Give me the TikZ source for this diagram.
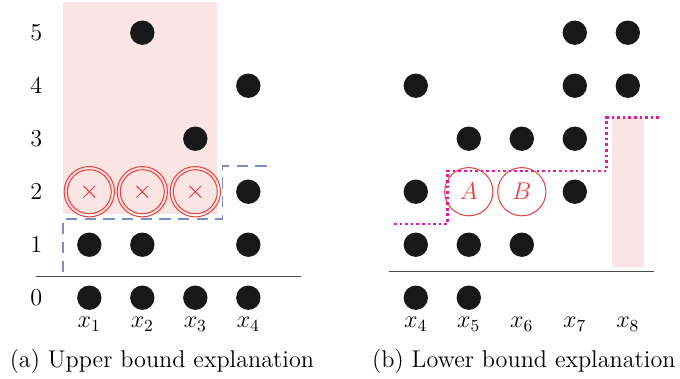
\RequirePackage{fix-cm}
\documentclass[tikz,border=0pt]{standalone}
\usepackage{fontspec}
\definecolor{dotc}{HTML}{181818}
\definecolor{pinkf}{HTML}{FBE4E4}
\definecolor{redc}{HTML}{E8403A}
\definecolor{bluec}{HTML}{7A8CCC}
\definecolor{magc}{HTML}{E6199A}
\begin{document}
\begin{tikzpicture}[x=1cm,y=1cm,
  every node/.style={font=\fontsize{13}{15}\selectfont, inner sep=0pt},
  pt/.style={circle, fill=dotc, minimum size=0.46cm},
  marked/.style={circle, draw=redc, line width=0.55pt, minimum size=0.83cm},
  markedout/.style={circle, draw=redc, line width=0.55pt, minimum size=0.95cm},
  lettered/.style={circle, draw=redc, line width=0.55pt, minimum size=0.91cm, text=redc},
  axisline/.style={draw=black!70, line width=0.8pt},
  bluedash/.style={draw=bluec, line width=0.9pt, dash pattern=on 6pt off 4pt},
  magdot/.style={draw=magc, line width=1.4pt, dash pattern=on 1.4pt off 1.6pt}
]
\useasboundingbox (-1.685,-1.515) rectangle (11.145,5.617);

% ---------- left panel ----------
\fill[pinkf] (-0.49,1.585) rectangle (2.41,5.585);
\draw[axisline] (-1,0.396) -- (4,0.396);
\foreach \r in {0,...,5} \node (ly\r) at (-1.0,\r) {$\r$};
\foreach \c/\n in {0/1,1/2,2/3,3/4} \node (lx\n) at (\c,-0.5) {$x_{\n}$};

% dots left
\foreach \c/\r [count=\i] in {0/0,1/0,2/0,3/0,0/1,1/1,3/1,3/2,2/3,3/4,1/5}
  \node[pt] (ld\i) at (\c,\r) {};

% marked circles
\foreach \c [count=\i] in {0,1,2} {
  \node[markedout] (mo\i) at (\c,2) {};
  \node[marked] (mi\i) at (\c,2) {};
  \draw[redc, line width=0.55pt] ([shift={(-0.11,-0.11)}]mi\i.center) -- ([shift={(0.11,0.11)}]mi\i.center);
  \draw[redc, line width=0.55pt] ([shift={(-0.11,0.11)}]mi\i.center) -- ([shift={(0.11,-0.11)}]mi\i.center);
}
\draw[bluedash] (-0.49,0.49) -- (-0.49,1.49) -- (2.51,1.49) -- (2.51,2.49) -- (3.39,2.49);

\node (capa) at (1.37,-1.21) {(a) Upper bound explanation};

% ---------- right panel ----------
\begin{scope}[xshift=6.16cm]
\fill[pinkf] (3.71,0.585) rectangle (4.31,3.385);
\draw[axisline] (-0.5,0.49) -- (4.49,0.49);
\foreach \c/\n in {0/4,1/5,2/6,3/7,4/8} \node (rx\n) at (\c,-0.5) {$x_{\n}$};
\foreach \c/\r [count=\i] in {0/0,1/0,0/1,1/1,2/1,0/2,3/2,1/3,2/3,3/3,0/4,3/4,4/4,3/5,4/5}
  \node[pt] (rd\i) at (\c,\r) {};
\node[lettered] (cA) at (1,2) {$A$};
\node[lettered] (cB) at (2,2) {$B$};
\draw[magdot] (-0.41,1.39) -- (0.6,1.39) -- (0.6,2.39) -- (3.6,2.39) -- (3.6,3.40) -- (4.6,3.40);
\node (capb) at (2.04,-1.21) {(b) Lower bound explanation};
\end{scope}
\end{tikzpicture}
\end{document}
